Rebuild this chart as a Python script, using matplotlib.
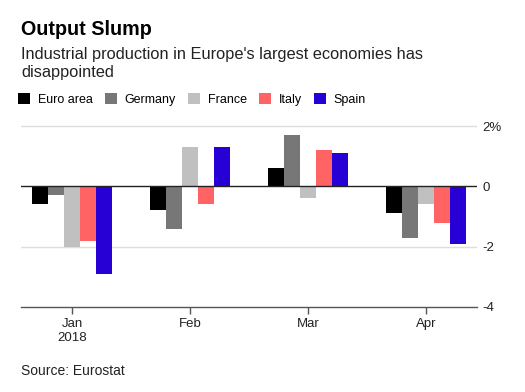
import numpy as np
import matplotlib as mpl
import matplotlib.pyplot as plt
from matplotlib.patches import Patch

mpl.use('Agg')
plt.rcParams['font.family'] = ['Liberation Sans', 'DejaVu Sans']

months = ['Jan\n2018', 'Feb', 'Mar', 'Apr']
countries = ['Euro area', 'Germany', 'France', 'Italy', 'Spain']
euro_area = [-0.6, -0.8, 0.6, -0.9]
germany = [-0.3, -1.4, 1.7, -1.7]
france = [-2.0, 1.3, -0.4, -0.6]
italy = [-1.8, -0.6, 1.2, -1.2]
spain = [-2.9, 1.3, 1.1, -1.9]
colors = ['#000000', '#777777', '#c0c0c0', '#ff6363', '#2600d4']

series = [euro_area, germany, france, italy, spain]

fig = plt.figure(figsize=(5.25, 3.92), dpi=100)
ax = fig.add_axes([0.04, 0.2176, 0.8686, 0.4717])

x = np.arange(len(months))
w = 0.135
for i, (vals, c) in enumerate(zip(series, colors)):
    ax.bar(x + (i - 2) * w, vals, width=w, color=c, zorder=3)

ax.set_xlim(-0.432, 3.432)
ax.set_ylim(-4, 2.15)
ax.axhline(0, color='#222222', lw=1, zorder=4)
for g in [2, -2]:
    ax.axhline(g, color='#dddddd', lw=1, zorder=1)

ax.yaxis.tick_right()
ax.set_yticks([-4, -2, 0, 2])
ax.set_yticklabels(['-4', '-2', '0', '2%'])
ax.tick_params(axis='y', length=0, pad=4, labelsize=9.5, labelcolor='#222222')
ax.set_xticks(x)
ax.set_xticklabels(months)
ax.tick_params(axis='x', length=5, width=1, color='#555555', pad=3,
               labelsize=9.5, labelcolor='#222222')
for s in ['top', 'left', 'right']:
    ax.spines[s].set_visible(False)
ax.spines['bottom'].set_color('#555555')
ax.spines['bottom'].set_linewidth(1)

# heading
fig.text(0.04, 0.9107, 'Output Slump', fontsize=14.2, fontweight='bold',
         va='baseline', ha='left')
fig.text(0.04, 0.8495, "Industrial production in Europe's largest economies has",
         fontsize=11.8, va='baseline', ha='left', color='#222222')
fig.text(0.04, 0.8036, "disappointed",
         fontsize=11.8, va='baseline', ha='left', color='#222222')

handles = [Patch(facecolor=c, edgecolor='none') for c in colors]
fig.legend(handles, countries, loc='center left', bbox_to_anchor=(0.035, 0.746),
           ncol=5, frameon=False, fontsize=9, handlelength=0.95, handleheight=0.95,
           handletextpad=0.6, columnspacing=1.0, borderpad=0, borderaxespad=0)

fig.text(0.04, 0.054, 'Source: Eurostat', fontsize=10, va='center', ha='left',
         color='#222222')

fig.savefig('out.png', dpi=100)
